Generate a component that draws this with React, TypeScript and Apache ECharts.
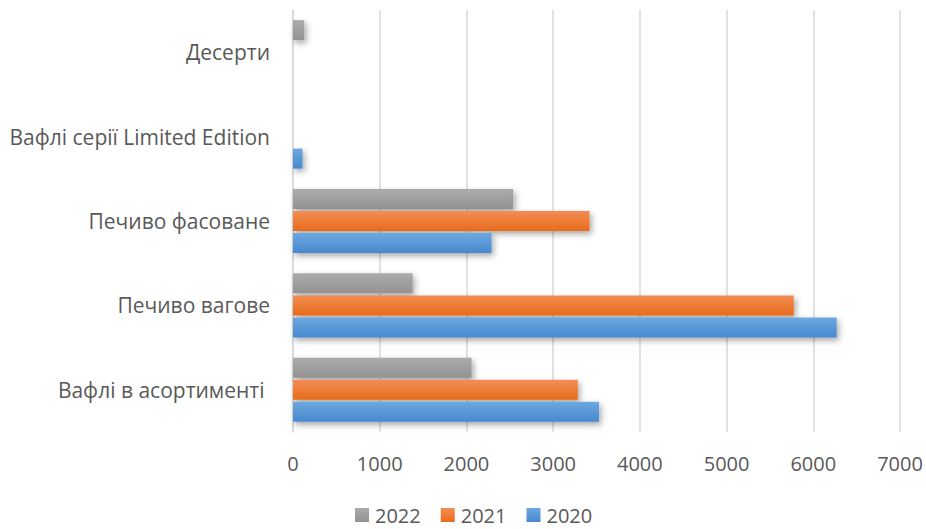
import React, { useEffect, useRef } from "react";
import * as echarts from "echarts";

const categories = [
  "Вафлі в асортименті ",
  "Печиво вагове",
  "Печиво фасоване",
  "Вафлі серії Limited Edition",
  "Десерти",
];
const values2020 = [3530, 6270, 2290, 110, 0];
const values2021 = [3285, 5775, 3420, 0, 0];
const values2022 = [2060, 1380, 2540, 0, 130];
const xTicks = { min: 0, max: 7000, interval: 1000 };

const FONT = "'Open Sans', 'Noto Sans', sans-serif";

function grad(top: string, bottom: string) {
  return new echarts.graphic.LinearGradient(0, 0, 0, 1, [
    { offset: 0, color: top },
    { offset: 1, color: bottom },
  ]);
}

export default function App() {
  const ref = useRef<HTMLDivElement>(null);
  useEffect(() => {
    if (!ref.current) return;
    const chart = echarts.init(ref.current, undefined, { renderer: "svg" });
    const barStyle = (top: string, bottom: string) => ({
      color: grad(top, bottom),
      shadowColor: "rgba(0,0,0,0.35)",
      shadowBlur: 6,
      shadowOffsetX: 2,
      shadowOffsetY: 3,
    });
    chart.setOption({
      animation: false,
      backgroundColor: "#ffffff",
      textStyle: { fontFamily: FONT },
      grid: { left: 293, right: 26, top: 10, bottom: 97, containLabel: false },
      legend: {
        data: ["2022", "2021", "2020"],
        top: 505,
        left: 355,
        padding: [0, 0, 0, 0],
        itemWidth: 14,
        itemHeight: 14,
        itemGap: 20,
        icon: "rect",
        textStyle: {
          fontSize: 20,
          lineHeight: 18,
          color: "#595959",
          fontFamily: FONT,
          padding: [0, 0, 0, 1],
        },
      },
      xAxis: {
        type: "value",
        min: xTicks.min,
        max: xTicks.max,
        interval: xTicks.interval,
        axisLine: { show: false },
        axisTick: { show: false },
        axisLabel: {
          fontSize: 20,
          color: "#595959",
          margin: 21,
          fontFamily: FONT,
          formatter: (v: number) => String(v),
        },
        splitLine: { show: true, lineStyle: { color: "#d9d9d9", width: 1.5 } },
      },
      yAxis: {
        type: "category",
        data: categories,
        axisLine: { show: true, lineStyle: { color: "#d9d9d9", width: 1.5 } },
        axisTick: { show: false },
        axisLabel: { fontSize: 21, color: "#595959", margin: 23, fontFamily: FONT },
      },
      series: [
        {
          name: "2022",
          type: "bar",
          data: values2022,
          barGap: "10%",
          barCategoryGap: "24%",
          itemStyle: barStyle("#ababab", "#939393"),
        },
        {
          name: "2021",
          type: "bar",
          data: values2021,
          barGap: "10%",
          barCategoryGap: "24%",
          itemStyle: barStyle("#f38d55", "#e86c1a"),
        },
        {
          name: "2020",
          type: "bar",
          data: values2020,
          barGap: "10%",
          barCategoryGap: "24%",
          itemStyle: barStyle("#6ea8df", "#4589cf"),
        },
      ],
    });
    return () => chart.dispose();
  }, []);
  return (
    <div
      ref={ref}
      style={{ position: "fixed", left: 0, top: 0, width: 926, height: 529 }}
    />
  );
}
